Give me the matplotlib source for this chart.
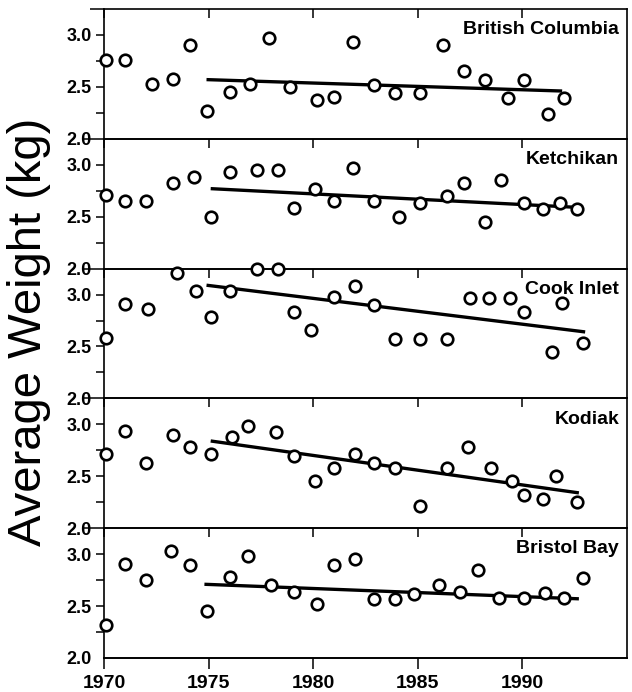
import matplotlib
matplotlib.use("Agg")
import matplotlib.pyplot as plt

plt.rcParams['font.family'] = ['Liberation Sans', 'DejaVu Sans']

regions = ["British Columbia", "Ketchikan", "Cook Inlet", "Kodiak", "Bristol Bay"]

bc_years = [1970.1, 1971.0, 1972.3, 1973.3, 1974.1, 1974.9, 1976.0, 1977.0, 1977.9, 1978.9,
            1980.2, 1981.0, 1981.9, 1982.9, 1983.9, 1985.1, 1986.2, 1987.2, 1988.2, 1989.3,
            1990.1, 1991.2, 1992.0]
bc_weight = [2.76, 2.76, 2.53, 2.58, 2.90, 2.27, 2.45, 2.53, 2.97, 2.50,
             2.37, 2.40, 2.93, 2.52, 2.44, 2.44, 2.90, 2.65, 2.57, 2.39,
             2.57, 2.24, 2.39]
bc_trend_x = [1974.9, 1991.9]
bc_trend_y = [2.57, 2.46]

ke_years = [1970.1, 1971.0, 1972.0, 1973.3, 1974.3, 1975.1, 1976.0, 1977.3, 1978.3, 1979.1,
            1980.1, 1981.0, 1981.9, 1982.9, 1984.1, 1985.1, 1986.4, 1987.2, 1988.2, 1989.0,
            1990.1, 1991.0, 1991.8, 1992.6]
ke_weight = [2.71, 2.65, 2.65, 2.82, 2.88, 2.50, 2.93, 2.95, 2.95, 2.58,
             2.77, 2.65, 2.97, 2.65, 2.50, 2.63, 2.70, 2.82, 2.45, 2.85,
             2.63, 2.57, 2.63, 2.57]
ke_trend_x = [1975.1, 1992.6]
ke_trend_y = [2.77, 2.59]

ci_years = [1970.1, 1971.0, 1972.1, 1973.5, 1974.4, 1975.1, 1976.0, 1977.3, 1978.3, 1979.1,
            1979.9, 1981.0, 1982.0, 1982.9, 1983.9, 1985.1, 1986.4, 1987.5, 1988.4, 1989.4,
            1990.1, 1991.4, 1991.9, 1992.9]
ci_weight = [2.58, 2.91, 2.86, 3.21, 3.03, 2.78, 3.03, 3.25, 3.25, 2.83,
             2.66, 2.98, 3.08, 2.90, 2.57, 2.57, 2.57, 2.97, 2.97, 2.97,
             2.83, 2.45, 2.92, 2.53]
ci_trend_x = [1974.9, 1993.0]
ci_trend_y = [3.09, 2.64]

ko_years = [1970.1, 1971.0, 1972.0, 1973.3, 1974.1, 1975.1, 1976.1, 1976.9, 1978.2, 1979.1,
            1980.1, 1981.0, 1982.0, 1982.9, 1983.9, 1985.1, 1986.4, 1987.4, 1988.5, 1989.5,
            1990.1, 1991.0, 1991.6, 1992.6]
ko_weight = [2.71, 2.94, 2.63, 2.90, 2.78, 2.71, 2.88, 2.98, 2.93, 2.70,
             2.45, 2.58, 2.71, 2.63, 2.58, 2.21, 2.58, 2.78, 2.58, 2.45,
             2.32, 2.28, 2.50, 2.25]
ko_trend_x = [1975.1, 1992.7]
ko_trend_y = [2.84, 2.34]

bb_years = [1970.1, 1971.0, 1972.0, 1973.2, 1974.1, 1974.9, 1976.0, 1976.9, 1978.0, 1979.1,
            1980.2, 1981.0, 1982.0, 1982.9, 1983.9, 1984.8, 1986.0, 1987.0, 1987.9, 1988.9,
            1990.1, 1991.1, 1992.0, 1992.9]
bb_weight = [2.32, 2.91, 2.75, 3.03, 2.90, 2.45, 2.78, 2.98, 2.70, 2.64,
             2.52, 2.90, 2.95, 2.57, 2.57, 2.62, 2.70, 2.64, 2.85, 2.58,
             2.58, 2.63, 2.58, 2.77]
bb_trend_x = [1974.8, 1992.7]
bb_trend_y = [2.71, 2.57]

all_years = [bc_years, ke_years, ci_years, ko_years, bb_years]
all_weights = [bc_weight, ke_weight, ci_weight, ko_weight, bb_weight]
all_tx = [bc_trend_x, ke_trend_x, ci_trend_x, ko_trend_x, bb_trend_x]
all_ty = [bc_trend_y, ke_trend_y, ci_trend_y, ko_trend_y, bb_trend_y]

x_ticks = [1970, 1975, 1980, 1985, 1990]
x_labels = ["1970", "1975", "1980", "1985", "1990"]
y_ticks = [2.0, 2.5, 3.0]
y_labels = ["2.0", "2.5", "3.0"]

fig = plt.figure(figsize=(6.32, 6.92), dpi=100)
axs = fig.subplots(5, 1, sharex=True, gridspec_kw=dict(hspace=0))
fig.subplots_adjust(left=104/632, right=627/632, top=1-9/692, bottom=1-658/692)

n = len(axs)
for i, ax in enumerate(axs):
    ax.set_xlim(1970, 1995)
    ax.set_ylim(2.0, 3.25)
    for s in ax.spines.values():
        s.set_linewidth(1.2)
    ax.plot(all_tx[i], all_ty[i], color='black', lw=2.4, zorder=4, solid_capstyle='butt')
    ax.plot(all_years[i], all_weights[i], 'o', ms=8.3, mfc='white', mec='black', mew=1.9,
            clip_on=False, zorder=6)
    ax.text(0.985, 0.84, regions[i], transform=ax.transAxes, ha='right', va='center',
            fontsize=14, fontweight='bold', zorder=5)

    ax.set_yticks(y_ticks, labels=y_labels, fontsize=13, fontweight='bold')
    minor = [2.25, 2.75] + ([3.25] if i == 0 else [])
    ax.set_yticks(minor, minor=True)
    ax.tick_params(axis='y', which='both', direction='out', length=6, width=1.1, pad=3)

    ax.set_xticks(x_ticks)
    ax.tick_params(axis='x', which='both', direction='in', top=True, bottom=False,
                   labelbottom=False, labeltop=False, length=6.5, width=1.1)
    ax.xaxis.set_minor_locator(matplotlib.ticker.NullLocator())

    yt = ax.yaxis.get_major_ticks()
    yt[0].tick1line.set_markersize(0 if i == n - 1 else 15.5)
    if i == 0:
        mt = ax.yaxis.get_minor_ticks()
        mt[2].tick1line.set_markersize(10)

    if i == n - 1:
        sec = ax.secondary_xaxis('bottom')
        sec.set_xticks(x_ticks, labels=x_labels, fontsize=14, fontweight='bold')
        sec.tick_params(axis='x', direction='out', length=8, width=1.1, pad=4)
        sec.spines['bottom'].set_linewidth(1.2)

# draw later panels above earlier ones so overflowing points show
for i, ax in enumerate(axs):
    ax.set_zorder(i)
    ax.patch.set_alpha(0)

fig.text(29/632, 0.52, "Average Weight (kg)", rotation=90, ha='center', va='center',
         fontsize=34)

fig.savefig("out.png", dpi=100)
